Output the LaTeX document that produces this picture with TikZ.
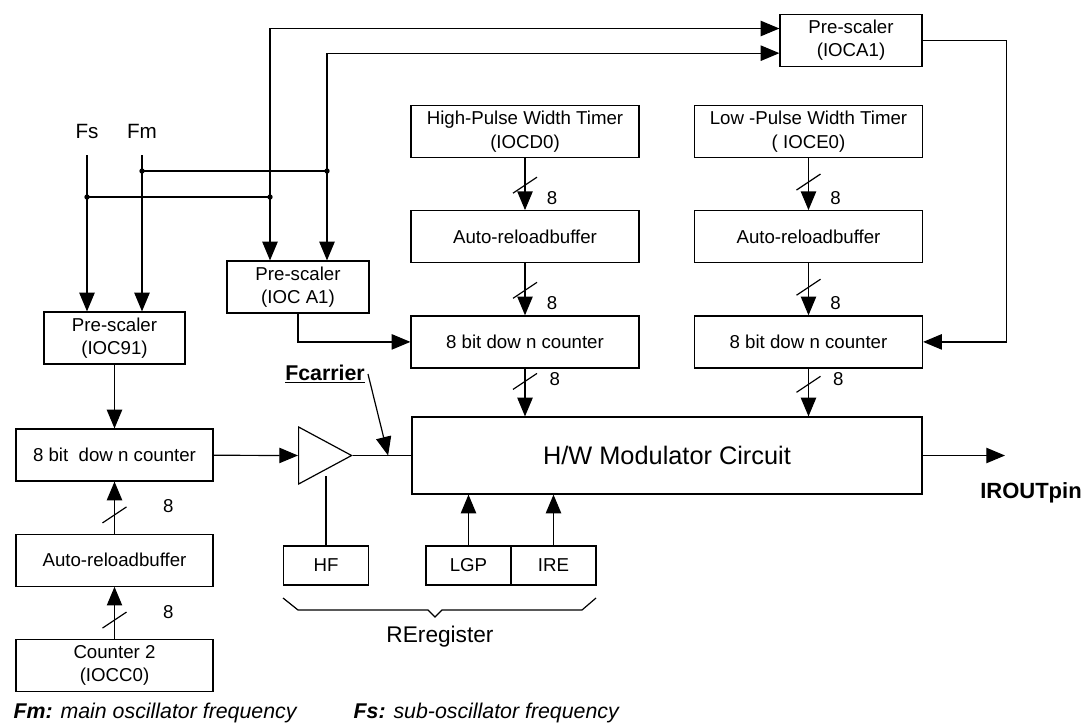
\documentclass[tikz,border=0pt]{standalone}
\usepackage{fontspec}
\setmainfont{Liberation Sans}
\usetikzlibrary{shapes,arrows.meta,positioning,calc}

\newcommand{\busmark}[1]{\draw (#1) +(-12,8) -- +(12,-8);}

\begin{document}
\begin{tikzpicture}[x=0.75pt, y=-0.75pt, line width=0.9pt, node distance=39pt,
    >={Triangle[length=14pt,width=11.5pt]},
    block/.style={draw, align=center, inner sep=1pt, minimum height=39pt, font=\fontsize{14}{17.5}\selectfont},
    unit/.style={block, minimum width=171pt},
    side/.style={block, minimum width=147.75pt},
    reg/.style={block, minimum width=64pt, minimum height=29.25pt},
    bits/.style={font=\fontsize{14}{16}\selectfont, inner sep=0pt},
    amp/.style={draw, isosceles triangle, isosceles triangle stretches, minimum width=42.75pt, minimum height=39.75pt, inner sep=0pt}]
    \useasboundingbox (0,0) rectangle (1088,725);

    % top pre-scaler and the two timer columns
    \node[block, minimum width=106.5pt] (pst) at (851,40.5) {Pre-scaler\\(IOCA1)};
    \node[unit] (hpw) at (525,131.5) {High-Pulse Width Timer\\(IOCD0)};
    \node[unit, below=of hpw] (hbuf) {Auto-reloadbuffer};
    \node[unit, below=of hbuf] (hcnt) {8 bit dow n counter};
    \node[unit] (lpw) at (808.5,131.5) {Low -Pulse Width Timer\\( IOCE0)};
    \node[unit, below=of lpw] (lbuf) {Auto-reloadbuffer};
    \node[unit, below=of lbuf] (lcnt) {8 bit dow n counter};

    % left column
    \node[font=\fontsize{15.5}{17}\selectfont] (fs) at (87,131) {Fs};
    \node[font=\fontsize{15.5}{17}\selectfont] (fm) at (142,131) {Fm};
    \node[block, minimum width=106.5pt] (pa1) at (298,287) {Pre-scaler\\(IOC A1)};
    \node[block, minimum width=105.75pt] (p91) at (114.5,338) {Pre-scaler\\(IOC91)};
    \node[side] (scnt) at (114.5,455) {8 bit\ \ dow n counter};
    \node[side, below=of scnt] (sbuf) {Auto-reloadbuffer};
    \node[side, below=of sbuf] (ctr2) {Counter 2\\(IOCC0)};

    % modulator
    \node[block, minimum width=382.5pt, minimum height=57.75pt, font=\fontsize{19}{22}\selectfont] (mod) at (667,455.5) {H/W Modulator Circuit};
    \node[amp, anchor=west] (amp) at (298,455.5) {};
    \node[reg] (hf) at (326,565.5) {HF};
    \node[reg, minimum width=63.75pt] (lgp) at (468.5,565.5) {LGP};
    \node[reg, minimum width=63.75pt] (ire) at (553.5,565.5) {IRE};
    \node[font=\bfseries\fontsize{16}{18}\selectfont, inner sep=1pt] (fcl) at (325,374) {\underline{Fcarrier}};
    \node[font=\fontsize{17}{20}\selectfont] (rereg) at (440,637) {REregister};
    \node[font=\bfseries\fontsize{16.5}{19}\selectfont] (iroutl) at (1031,493) {IROUTpin};
    \coordinate (irout) at (1005,455.5);

    % captions
    \node[anchor=west, inner sep=0pt, font=\itshape\fontsize{16}{18}\selectfont] (capm) at (13,713) {\textbf{Fm:} main oscillator frequency};
    \node[anchor=west, inner sep=0pt, font=\itshape\fontsize{16}{18}\selectfont] (caps) at (353,713) {\textbf{Fs:} sub-oscillator frequency};

    % clock feeds
    \coordinate (ls) at ([xshift=-21pt]pa1.north);
    \coordinate (lm) at ([xshift=21.75pt]pa1.north);
    \coordinate (js) at (fs |- 0,197);
    \coordinate (jm) at (fm |- 0,171);
    \draw[->] ([yshift=-9pt]fs.south) -- (fs |- p91.north);
    \draw[->] ([yshift=-9pt]fm.south) -- (fm |- p91.north);
    \draw (js) -- (ls |- js);
    \draw (jm) -- (lm |- jm);
    \draw[<->] (ls) |- ([yshift=9pt]pst.west);
    \draw[<->] (lm) |- ([yshift=-9.5pt]pst.west);
    \foreach \p in {js, jm} {\fill (\p) circle (2pt);}
    \fill (ls |- js) circle (2pt);
    \fill (lm |- jm) circle (2pt);
    \draw[->] (pst.east) -| ([xshift=62.25pt]lcnt.east) -- (lcnt.east);
    \draw[->] (pa1) |- (hcnt);

    % 8 bit buses
    \draw[->] (hpw) -- coordinate[pos=0.52] (b1) node[bits, pos=0.77, right=16pt] {8} (hbuf);
    \draw[->] (hbuf) -- coordinate[pos=0.52] (b2) node[bits, pos=0.77, right=16pt] {8} (hcnt);
    \draw[->] (hcnt) -- coordinate[pos=0.27] (b3) node[bits, pos=0.23, right=18pt] {8} (hcnt |- mod.north);
    \draw[->] (lpw) -- coordinate[pos=0.46] (b4) node[bits, pos=0.77, right=16pt] {8} (lbuf);
    \draw[->] (lbuf) -- coordinate[pos=0.46] (b5) node[bits, pos=0.77, right=16pt] {8} (lcnt);
    \draw[->] (lcnt) -- coordinate[pos=0.33] (b6) node[bits, pos=0.23, right=18pt] {8} (lcnt |- mod.north);
    \draw[->] (sbuf) -- coordinate[pos=0.36] (b7) node[bits, pos=0.52, right=36pt] {8} (scnt);
    \draw[->] (ctr2) -- coordinate[pos=0.36] (b8) node[bits, pos=0.52, right=36pt] {8} (sbuf);
    \foreach \b in {b1,b2,b3,b4,b5,b6,b7,b8} {\busmark{\b}}

    % carrier path
    \draw[->] (p91) -- (scnt);
    \draw[->] (scnt) -- (amp.west);
    \draw (amp.east) -- coordinate[pos=0.6] (fc) (mod.west);
    \draw[->] ([xshift=1pt]fcl.east) -- (fc);
    \draw (hf) -- (hf |- amp.south);
    \draw[->] (lgp) -- (lgp |- mod.south);
    \draw[->] (ire) -- (ire |- mod.south);
    \draw[->] (mod.east) -- (irout);

    % register brace
    \draw (283,598) -- (298,610) -- (428,610) -- (435,617) -- (442,610) -- (582,610) -- (596,598);
\end{tikzpicture}
\end{document}
